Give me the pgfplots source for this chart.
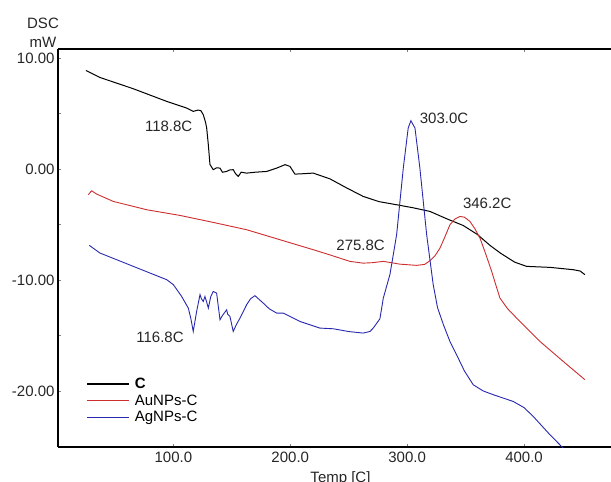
\documentclass[border=0pt]{standalone}
\usepackage{pgfplots}
\pgfplotsset{compat=1.18}
\usepackage{fontspec}
\setmainfont{Liberation Sans}
\definecolor{cred}{RGB}{205,45,45}
\definecolor{cblue}{RGB}{40,40,175}
\begin{document}
\begin{tikzpicture}
\begin{axis}[
  at={(0,0)}, anchor=south west,
  scale only axis, width=553bp, height=398bp,
  xmin=1.3, xmax=474.4, ymin=-25.05, ymax=10.8,
  separate axis lines,
  axis x line*=box, axis y line*=left,
  axis line style={line width=1.2bp, black},
  xtick={100,200,300,400}, xticklabels={100.0,200.0,300.0,400.0},
  ytick={-20,-10,0,10}, yticklabels={-20.00,-10.00,0.00,10.00},
  minor y tick num=1,
  tick align=inside, major tick length=3bp, minor tick length=3bp,
  tick style={line width=0.4bp, gray},
  tick label style={font=\fontsize{15bp}{17bp}\selectfont, text=black!85},
  xticklabel style={yshift=-2bp},
  legend cell align=left,
  legend style={draw=none, fill=none, at={(axis cs:25.2,-18.75)}, anchor=north west,
    font=\fontsize{15bp}{16bp}\selectfont, row sep=2.5bp, inner sep=0pt,
    nodes={inner xsep=4.5bp, inner ysep=1bp}},
  legend image code/.code={\draw[#1] (0bp,0bp) -- (42bp,0bp);},
]
\addlegendimage{black, line width=2.2bp}
\addlegendentry{\textbf{C}}
\addlegendimage{cred, line width=1bp}
\addlegendentry{AuNPs-C}
\addlegendimage{cblue, line width=1bp}
\addlegendentry{AgNPs-C}
\addplot[black, line width=1bp, forget plot] coordinates {
(25.2,8.87)(37,8.24)(65.7,7.22)(94.3,6.08)(111.4,5.48)(117,5.18)(121,5.3)(123.5,5.25)
(125.6,4.88)(127.5,4.2)(128.5,3.68)(129.9,2.18)(131.3,0.4)(134.1,-0.07)(137,0.1)
(139.9,0.07)(142,-0.3)(145.6,-0.23)(148,-0.1)(151.2,-0.07)(153,-0.4)(155.5,-0.68)
(158,-0.3)(162.7,-0.38)(170,-0.3)(179.8,-0.23)(188.4,0.07)(195.5,0.38)(199.7,0.23)
(204,-0.47)(208.3,-0.45)(219.7,-0.38)(234,-0.9)(248,-1.7)(262.4,-2.48)(276,-2.95)
(291,-3.23)(305,-3.5)(319.5,-3.83)(334,-4.5)(348,-5.1)(360,-5.9)(371,-6.9)(380,-7.6)
(392,-8.4)(402.2,-8.78)(422.2,-8.87)(442.1,-9.08)(448,-9.2)(452.1,-9.53)};
\addplot[cred, line width=0.9bp, forget plot] coordinates {
(27.2,-2.33)(30.1,-1.97)(34.4,-2.27)(48.6,-2.93)(77.2,-3.68)(105.6,-4.19)(134.1,-4.82)
(162.7,-5.48)(191.2,-6.38)(219.7,-7.28)(234,-7.75)(251,-8.33)(262.4,-8.49)(270,-8.45)
(279.6,-8.33)(293.8,-8.58)(308.1,-8.69)(315,-8.6)(319.5,-8.27)(324,-7.8)(328.1,-7.13)
(332,-6.2)(336.6,-5.03)(341,-4.5)(345.2,-4.28)(349,-4.35)(353.7,-4.73)(358,-5.4)
(362.3,-6.23)(366,-7.3)(369.4,-8.33)(372.3,-9.23)(376,-10.5)(379.4,-11.64)(386,-12.6)
(393.7,-13.44)(413.6,-15.54)(433.5,-17.34)(452.1,-18.99)};
\addplot[cblue, line width=0.9bp, forget plot] coordinates {
(28.1,-6.89)(37.2,-7.58)(65.7,-8.78)(94.3,-9.98)(100,-10.43)(107.1,-11.49)(112.8,-12.54)
(115,-13.5)(117,-14.64)(119.9,-12.84)(122.8,-11.33)(124,-11.7)(125.6,-11.94)(127,-11.49)
(128.5,-12.0)(129.9,-12.54)(132,-11.5)(134.1,-11.04)(137,-11.19)(139.9,-13.59)(142,-13.2)
(145.6,-12.69)(146.5,-13.1)(148.4,-13.29)(151.2,-14.64)(154,-14.0)(157,-13.44)(162.7,-12.23)
(166,-11.7)(169.8,-11.42)(176.9,-12.09)(182,-12.6)(188.4,-12.99)(194,-12.99)(208.3,-13.74)
(225.4,-14.34)(236.8,-14.4)(250,-14.65)(262.4,-14.79)(268.2,-14.64)(271,-14.34)(276.7,-13.5)
(279.6,-11.64)(285.3,-9.5)(291,-5.93)(296.7,0.07)(300.9,3.68)(303.2,4.34)(306.7,3.68)
(310.9,0.07)(316.7,-5.93)(322.3,-10.43)(326,-12.5)(330.9,-14.0)(336.6,-15.54)(342.3,-16.74)
(349,-18.2)(356.5,-19.44)(365,-20.0)(373.7,-20.34)(390.8,-20.95)(400,-21.5)(407.9,-22.3)
(422.2,-23.95)(433.5,-25.15)(440,-26)};
\begin{scope}[every node/.style={font=\fontsize{15bp}{17bp}\selectfont, text=black!85}]
\node at (axis cs:96,3.8) {118.8C};
\node at (axis cs:331.6,4.55) {303.0C};
\node at (axis cs:368.5,-3.1) {346.2C};
\node at (axis cs:260.2,-6.9) {275.8C};
\node at (axis cs:88.6,-15.2) {116.8C};
\end{scope}
\end{axis}
\begin{scope}[every node/.style={font=\fontsize{15bp}{17bp}\selectfont, text=black!85}]
\node at (-15bp,424bp) {DSC};
\node at (-15bp,405bp) {mW};
\node at (282.5bp,-32bp) {Temp [C]};
\end{scope}
\pgfresetboundingbox
\path[use as bounding box] (-58bp,-35bp) rectangle (553bp,447bp);
\end{tikzpicture}
\end{document}
